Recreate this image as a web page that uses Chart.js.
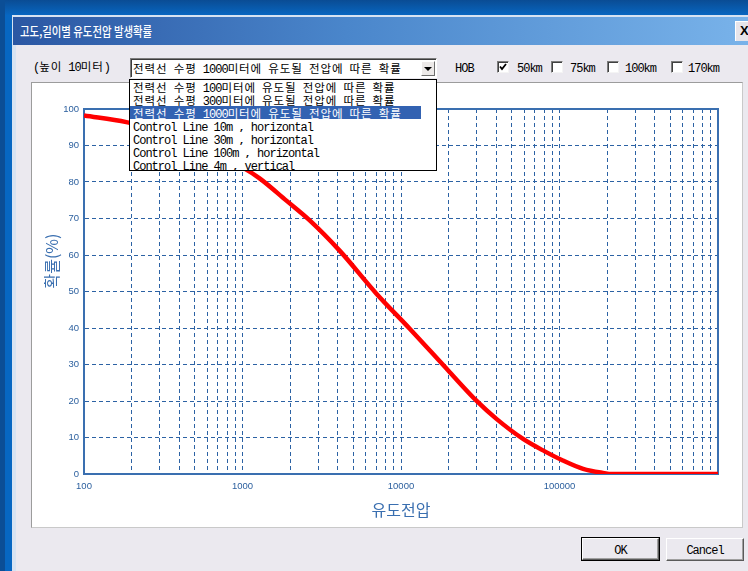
<!DOCTYPE html>
<html>
<head>
<meta charset="utf-8">
<title>고도,길이별 유도전압 발생확률</title>
<script src="https://cdn.jsdelivr.net/npm/chart.js@4.4.1/dist/chart.umd.min.js"></script>
<style>
  html, body { margin: 0; padding: 0; }
  body {
    width: 748px; height: 571px; overflow: hidden; position: relative;
    background: #0767c2;
  }
  .abs { position: absolute; }
  .en { font-family: "Liberation Mono", monospace; font-size: 12px; letter-spacing: -1px; white-space: pre; }
  .kr { font-family: "Noto Sans CJK KR", sans-serif; font-size: 11.5px; letter-spacing: 0.9px; white-space: pre; }
  .txt { white-space: pre; color: #000; line-height: 16px; height: 16px; }
  #topband { left: 0; top: 0; width: 748px; height: 15px; background: linear-gradient(#0a4c94, #0866c0); }
  #leftband { left: 0; top: 0; width: 5px; height: 571px; background: #0b4e96; }
  #frame { left: 12px; top: 15px; width: 740px; height: 560px; background: #d7e3f2; }
  #titlebar {
    left: 13px; top: 17px; width: 740px; height: 28px;
    background: linear-gradient(to right, #2b57a3 0%, #4a86cb 45%, #79b3ea 100%);
  }
  #titletext {
    left: 20px; top: 17px; height: 28px; line-height: 28px;
    font-family: "Noto Sans CJK KR", sans-serif; font-size: 13px; font-weight: 500;
    color: #fff; white-space: pre; transform: scaleX(0.8); transform-origin: 0 50%;
  }
  #closebtn {
    left: 735px; top: 21px; width: 24px; height: 20px; box-sizing: border-box;
    background: #e6e4ea; border-top: 1px solid #fff; border-left: 1px solid #fff;
    font-family: "Liberation Sans", sans-serif; font-weight: 700; font-size: 13px; line-height: 18px;
    padding-left: 4px; color: #000;
  }
  #body { left: 16px; top: 45px; width: 740px; height: 530px; background: #ebe9ef; }
  #panel {
    left: 31px; top: 82px; width: 712px; height: 446px; box-sizing: border-box;
    background: #fff; border-left: 1px solid #9c9c9c; border-top: 1px solid #9c9c9c;
    border-right: 1px solid #c9c9c9; border-bottom: 1px solid #c9c9c9;
  }
  #chart { left: 32px; top: 83px; }
  #combo {
    left: 130px; top: 58px; width: 307px; height: 20px; box-sizing: border-box;
    background: #fff; border-top: 1px solid #7c7c7c; border-left: 1px solid #7c7c7c;
    border-right: 1px solid #fff; border-bottom: 1px solid #fff;
    box-shadow: inset 1px 1px 0 #3c3c3c;
    padding-left: 2px; line-height: 18px; white-space: pre; overflow: hidden;
  }
  #arrow {
    left: 421px; top: 61px; width: 14px; height: 15px; box-sizing: border-box;
    background: #ece9e8; border-top: 1px solid #fff; border-left: 1px solid #fff;
    border-right: 1px solid #6e6e6e; border-bottom: 1px solid #6e6e6e;
  }
  #arrow i {
    position: absolute; left: 2px; top: 5px; width: 0; height: 0;
    border-left: 4px solid transparent; border-right: 4px solid transparent; border-top: 4px solid #000;
  }
  #list {
    left: 129px; top: 79px; width: 308px; height: 92px; box-sizing: border-box;
    background: #fff; border: 1px solid #000;
  }
  #list div { height: 13px; line-height: 13px; white-space: pre; padding-left: 3px; overflow: hidden; }
  #list div.sel { background: #3262b2; color: #fff; width: 288px; }
  .chk {
    width: 12px; height: 12px; box-sizing: border-box; background: #fff;
    border-top: 1px solid #7c7c7c; border-left: 1px solid #7c7c7c;
    border-right: 1px solid #f4f4f4; border-bottom: 1px solid #f4f4f4;
    box-shadow: inset 1px 1px 0 #404040;
  }
  .btn {
    height: 23px; box-sizing: border-box; background: #ebe9ef; text-align: center; line-height: 20px;
    border-top: 1px solid #fff; border-left: 1px solid #fff;
    border-right: 1px solid #5a5a5a; border-bottom: 1px solid #5a5a5a;
    box-shadow: inset -1px -1px 0 #a0a0a0;
  }
  .btn.def { outline: 1px solid #000; }
</style>
</head>
<body>
<div id="topband" class="abs"></div>
<div id="leftband" class="abs"></div>
<div id="frame" class="abs"></div>
<div id="titlebar" class="abs"></div>
<div id="titletext" class="abs">고도,길이별 유도전압 발생확률</div>
<div id="closebtn" class="abs">X</div>
<div id="body" class="abs"></div>

<div id="heightLabel" class="abs txt" style="left:33px;top:58px;"></div>
<div id="combo" class="abs"></div>
<div id="arrow" class="abs"><i></i></div>
<div id="hob" class="abs txt" style="left:455px;top:59px;"></div>
<div id="checks"></div>

<div id="panel" class="abs"></div>
<canvas id="chart" class="abs" width="711" height="445"></canvas>

<div id="list" class="abs"></div>

<div id="okBtn" class="abs btn def" style="left:582px;top:538px;width:77px;height:22px;"></div>
<div id="cancelBtn" class="abs btn" style="left:666px;top:538px;width:78px;"></div>

<script>
// ---- curve: probability (%) of the induced voltage on the line ----
const voltage = [100, 185, 316, 562, 1000, 1282, 1892, 2655, 4100, 7000, 11350,
                 20300, 29900, 40000, 58900, 80700, 105000, 141000, 188000, 215000, 1000000];
const probability = [98.2, 96.4, 93.8, 89.5, 84.0, 81.0, 74.9, 69.5, 61.2, 49.4, 39.8,
                     27.9, 20.1, 15.1, 9.6, 6.2, 3.7, 1.4, 0.3, 0, 0];

// ---- axes ----
const xMin = 100, xMax = 1000000;
const xTickLabels = ['100', '1000', '10000', '100000'];
const yMin = 0, yMax = 100, yStep = 10;
const xTitle = '유도전압';
const yTitle = '확률(%)';

// ---- dialog texts ----
const heightText = '(높이 10미터)';
const comboText = '전력선 수평 1000미터에 유도될 전압에 따른 확률';
const listItems = [
  '전력선 수평 100미터에 유도될 전압에 따른 확률',
  '전력선 수평 300미터에 유도될 전압에 따른 확률',
  '전력선 수평 1000미터에 유도될 전압에 따른 확률',
  'Control Line 10m , horizontal',
  'Control Line 30m , horizontal',
  'Control Line 100m , horizontal',
  'Control Line 4m , vertical'
];
const selectedItem = 2;
const hobLabel = 'HOB';
const hobOptions = ['50km', '75km', '100km', '170km'];
const hobChecked = [true, false, false, false];
const okText = 'OK';
const cancelText = 'Cancel';

// fixed-pitch rendering: latin half width, hangul full width
function pitch(text) {
  return text.replace(/([\uAC00-\uD7A3]+)|([^\uAC00-\uD7A3]+)/g, (m, k, a) =>
    k ? '<span class="kr">' + k + '</span>' : '<span class="en">' + a + '</span>');
}

document.getElementById('heightLabel').innerHTML = pitch(heightText);
document.getElementById('combo').innerHTML = pitch(comboText);
document.getElementById('hob').innerHTML = pitch(hobLabel);
document.getElementById('okBtn').innerHTML = pitch(okText);
document.getElementById('cancelBtn').innerHTML = pitch(cancelText);

const list = document.getElementById('list');
listItems.forEach((t, i) => {
  const d = document.createElement('div');
  if (i === selectedItem) d.className = 'sel';
  d.innerHTML = pitch(t);
  list.appendChild(d);
});

const boxLeft = [497, 551, 607, 671];
const textLeft = [517, 570, 625, 688];
const checks = document.getElementById('checks');
hobOptions.forEach((t, i) => {
  const b = document.createElement('div');
  b.className = 'abs chk';
  b.style.left = boxLeft[i] + 'px';
  b.style.top = '61px';
  if (hobChecked[i]) {
    b.innerHTML = '<svg width="10" height="10" style="position:absolute;left:0;top:0">' +
      '<polyline points="2,4.5 4,7 8,2" fill="none" stroke="#000" stroke-width="1.8"/></svg>';
  }
  checks.appendChild(b);
  const l = document.createElement('div');
  l.className = 'abs txt';
  l.style.left = textLeft[i] + 'px';
  l.style.top = '59px';
  l.innerHTML = pitch(t);
  checks.appendChild(l);
});

// ---- chart ----
const AXIS_BLUE = '#3a6fb0';
const GRID_BLUE = '#2c62a4';
const LABEL_BLUE = '#2b5f9e';

// grid lines at every 1..9 x 10^n between the axis limits
const gridValues = [];
for (let e = 2; e <= 5; e++) {
  for (let m = 1; m <= 9; m++) gridValues.push(m * Math.pow(10, e));
}
gridValues.push(xMax);

const plotFrame = {
  id: 'plotFrame',
  beforeDatasetsDraw(chart) {
    const { ctx, chartArea: a } = chart;
    ctx.save();
    ctx.strokeStyle = AXIS_BLUE;
    ctx.lineWidth = 2;
    ctx.strokeRect(a.left, a.top, a.right - a.left, a.bottom - a.top);
    ctx.restore();
  },
  afterDraw(chart) {
    const { ctx } = chart;
    ctx.save();
    ctx.translate(20, 178);
    ctx.rotate(-Math.PI / 2);
    ctx.fillStyle = AXIS_BLUE;
    ctx.font = '16px "Noto Sans CJK KR"';
    ctx.textAlign = 'center';
    ctx.textBaseline = 'middle';
    ctx.fillText(yTitle, 0, 0);
    ctx.restore();
  }
};

new Chart(document.getElementById('chart'), {
  type: 'line',
  data: {
    datasets: [{
      data: voltage.map((v, i) => ({ x: v, y: probability[i] })),
      borderColor: '#ff0000',
      borderWidth: 4.5,
      pointRadius: 0,
      cubicInterpolationMode: 'monotone',
      fill: false
    }]
  },
  options: {
    responsive: false,
    animation: false,
    devicePixelRatio: 1,
    layout: { padding: { top: 26, right: 25, left: 0, bottom: 0 } },
    plugins: { legend: { display: false }, tooltip: { enabled: false } },
    scales: {
      x: {
        type: 'logarithmic',
        min: xMin,
        max: xMax,
        afterBuildTicks: (scale) => { scale.ticks = gridValues.map(v => ({ value: v })); },
        afterFit: (scale) => { scale.height = 54; },
        grid: { color: GRID_BLUE, lineWidth: 1, drawTicks: false },
        border: { color: AXIS_BLUE, width: 2, dash: [4, 3] },
        ticks: {
          autoSkip: false,
          maxRotation: 0,
          padding: 7,
          color: LABEL_BLUE,
          font: { family: 'Liberation Sans', size: 9.5 },
          callback: (v) => xTickLabels.includes(String(v)) ? String(v) : ''
        },
        title: {
          display: true,
          text: xTitle,
          color: AXIS_BLUE,
          font: { family: 'Noto Sans CJK KR', size: 16 },
          padding: { top: 4, bottom: 8 }
        }
      },
      y: {
        min: yMin,
        max: yMax,
        afterFit: (scale) => { scale.width = 52; },
        grid: { color: GRID_BLUE, lineWidth: 1, drawTicks: false },
        border: { color: AXIS_BLUE, width: 2, dash: [4, 3] },
        ticks: {
          stepSize: yStep,
          padding: 5,
          color: LABEL_BLUE,
          font: { family: 'Liberation Sans', size: 9.5 }
        }
      }
    }
  },
  plugins: [plotFrame]
});
</script>
</body>
</html>
